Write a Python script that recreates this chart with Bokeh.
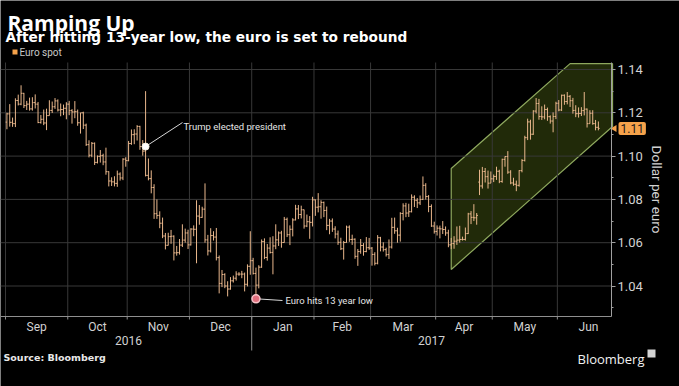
import numpy as np
import pandas as pd
from bokeh.plotting import figure
from bokeh.models import (FixedTicker, LinearAxis, Label, Range1d, ColumnDataSource,
                          NumeralTickFormatter)
from bokeh.transform import dodge
from bokeh.embed import file_html
from bokeh.resources import INLINE

# ---------------- data (EUR/USD daily bars) ----------------
FIRST_DAY = "2016-09-01"
LAST_DAY = "2017-06-21"

OPEN = [
    # Sep 2016
    1.1157, 1.1195, 1.1156, 1.1150, 1.1257, 1.1240, 1.1290, 1.1233, 1.1240, 1.1218, 1.1247,
    1.1240, 1.1155, 1.1170, 1.1153, 1.1187, 1.1211, 1.1228, 1.1255, 1.1213, 1.1215, 1.1221,
    # Oct
    1.1240, 1.1210, 1.1204, 1.1205, 1.1154, 1.1200, 1.1143, 1.1053, 1.1004, 1.1059, 1.0971,
    1.0999, 1.1002, 1.0973, 1.0928, 1.0885, 1.0881, 1.0874, 1.0917, 1.0899, 1.0986,
    # Nov
    1.0979, 1.1058, 1.1099, 1.1102, 1.1137, 1.1044, 1.1023, 1.0911, 1.0896, 1.0855, 1.0734,
    1.0726, 1.0690, 1.0631, 1.0588, 1.0628, 1.0630, 1.0553, 1.0554, 1.0589, 1.0612, 1.0645,
    # Dec
    1.0590, 1.0663, 1.0662, 1.0723, 1.0717, 1.0755, 1.0613, 1.0562, 1.0633, 1.0626, 1.0531,
    1.0412, 1.0453, 1.0400, 1.0386, 1.0424, 1.0436, 1.0455, 1.0455, 1.0455, 1.0408, 1.0491,
    # Jan 2017
    1.0517, 1.0458, 1.0404, 1.0487, 1.0605, 1.0532, 1.0575, 1.0555, 1.0585, 1.0613, 1.0645,
    1.0601, 1.0708, 1.0637, 1.0662, 1.0705, 1.0756, 1.0730, 1.0752, 1.0677, 1.0697, 1.0694,
    # Feb
    1.0798, 1.0764, 1.0766, 1.0786, 1.0749, 1.0680, 1.0700, 1.0663, 1.0640, 1.0602,
    1.0572, 1.0601, 1.0672, 1.0615, 1.0616, 1.0537, 1.0559, 1.0587, 1.0559, 1.0577,
    # Mar
    1.0575, 1.0546, 1.0505, 1.0623, 1.0580, 1.0568, 1.0545, 1.0580, 1.0671, 1.0655, 1.0635,
    1.0735, 1.0770, 1.0737, 1.0743, 1.0810, 1.0796, 1.0784, 1.0800, 1.0865, 1.0813, 1.0767, 1.0677,
    # Apr
    1.0652, 1.0667, 1.0664, 1.0661, 1.0645, 1.0590, 1.0596, 1.0607, 1.0612, 1.0615,
    1.0615, 1.0642, 1.0733, 1.0717, 1.0715, 1.0880, 1.0862, 1.0929, 1.0905, 1.0875,
    # May
    1.0895, 1.0906, 1.0930, 1.0883, 1.0985, 1.0998, 1.0926, 1.0876, 1.0870, 1.0865, 1.0933,
    1.0980, 1.1085, 1.1158, 1.1101, 1.1208, 1.1243, 1.1183, 1.1181, 1.1215, 1.1182, 1.1162, 1.1183,
    # Jun
    1.1244, 1.1213, 1.1281, 1.1252, 1.1276, 1.1256, 1.1211, 1.1196, 1.1197, 1.1210,
    1.1217, 1.1150, 1.1198, 1.1150, 1.1133,
]
HIGH = [
    1.1200, 1.1240, 1.1178, 1.1267, 1.1284, 1.1327, 1.1292, 1.1255, 1.1270, 1.1272, 1.1285,
    1.1250, 1.1190, 1.1215, 1.1219, 1.1258, 1.1252, 1.1268, 1.1262, 1.1243, 1.1238, 1.1249,
    1.1255, 1.1217, 1.1254, 1.1215, 1.1200, 1.1205, 1.1150, 1.1073, 1.1065, 1.1063, 1.1003,
    1.1028, 1.1011, 1.1039, 1.0930, 1.0902, 1.0907, 1.0933, 1.0925, 1.0990, 1.0995,
    1.1070, 1.1123, 1.1124, 1.1143, 1.1140, 1.1074, 1.1300, 1.0989, 1.0934, 1.0870, 1.0800,
    1.0745, 1.0716, 1.0645, 1.0646, 1.0659, 1.0634, 1.0585, 1.0617, 1.0685, 1.0665, 1.0660,
    1.0667, 1.0680, 1.0796, 1.0774, 1.0766, 1.0874, 1.0636, 1.0667, 1.0653, 1.0668, 1.0541,
    1.0474, 1.0459, 1.0422, 1.0441, 1.0448, 1.0468, 1.0464, 1.0470, 1.0462, 1.0500, 1.0653,
    1.0530, 1.0485, 1.0496, 1.0615, 1.0620, 1.0594, 1.0625, 1.0630, 1.0685, 1.0652, 1.0655,
    1.0719, 1.0716, 1.0680, 1.0713, 1.0775, 1.0774, 1.0771, 1.0753, 1.0730, 1.0723, 1.0812,
    1.0800, 1.0829, 1.0796, 1.0790, 1.0767, 1.0710, 1.0712, 1.0676, 1.0656, 1.0623,
    1.0608, 1.0679, 1.0680, 1.0637, 1.0620, 1.0571, 1.0617, 1.0598, 1.0626, 1.0622,
    1.0580, 1.0556, 1.0635, 1.0627, 1.0602, 1.0577, 1.0615, 1.0715, 1.0716, 1.0669, 1.0741,
    1.0782, 1.0784, 1.0780, 1.0823, 1.0819, 1.0806, 1.0818, 1.0906, 1.0875, 1.0820, 1.0777, 1.0697,
    1.0680, 1.0679, 1.0700, 1.0675, 1.0660, 1.0622, 1.0630, 1.0675, 1.0678, 1.0628,
    1.0670, 1.0738, 1.0746, 1.0778, 1.0737, 1.0937, 1.0950, 1.0945, 1.0933, 1.0929,
    1.0915, 1.0951, 1.0937, 1.0988, 1.0999, 1.1023, 1.0935, 1.0900, 1.0887, 1.0935, 1.0986,
    1.1094, 1.1173, 1.1168, 1.1212, 1.1268, 1.1264, 1.1230, 1.1238, 1.1224, 1.1188, 1.1202, 1.1251,
    1.1259, 1.1284, 1.1285, 1.1296, 1.1282, 1.1269, 1.1235, 1.1225, 1.1226, 1.1296,
    1.1220, 1.1212, 1.1212, 1.1167, 1.1160,
]
LOW = [
    1.1124, 1.1136, 1.1135, 1.1134, 1.1234, 1.1235, 1.1222, 1.1213, 1.1210, 1.1210, 1.1220,
    1.1152, 1.1150, 1.1143, 1.1120, 1.1187, 1.1199, 1.1218, 1.1206, 1.1184, 1.1189, 1.1170,
    1.1189, 1.1150, 1.1175, 1.1140, 1.1104, 1.1125, 1.1047, 1.0994, 1.0995, 1.0959, 1.0966,
    1.0970, 1.0958, 1.0914, 1.0860, 1.0862, 1.0860, 1.0858, 1.0887, 1.0889, 1.0951,
    1.0976, 1.1052, 1.1055, 1.1072, 1.1029, 1.1002, 1.0906, 1.0888, 1.0828, 1.0710, 1.0710,
    1.0667, 1.0621, 1.0569, 1.0587, 1.0595, 1.0518, 1.0540, 1.0545, 1.0580, 1.0600, 1.0571,
    1.0587, 1.0630, 1.0505, 1.0683, 1.0715, 1.0600, 1.0541, 1.0555, 1.0610, 1.0518, 1.0366,
    1.0395, 1.0390, 1.0352, 1.0383, 1.0416, 1.0425, 1.0447, 1.0436, 1.0375, 1.0398, 1.0452,
    1.0453, 1.0341, 1.0389, 1.0484, 1.0524, 1.0517, 1.0550, 1.0454, 1.0570, 1.0585, 1.0577,
    1.0600, 1.0626, 1.0589, 1.0629, 1.0703, 1.0709, 1.0712, 1.0665, 1.0672, 1.0618, 1.0675,
    1.0724, 1.0740, 1.0711, 1.0718, 1.0658, 1.0639, 1.0650, 1.0620, 1.0590, 1.0566,
    1.0522, 1.0600, 1.0604, 1.0590, 1.0526, 1.0493, 1.0549, 1.0540, 1.0556, 1.0567,
    1.0494, 1.0495, 1.0500, 1.0560, 1.0559, 1.0536, 1.0525, 1.0573, 1.0641, 1.0600, 1.0605,
    1.0703, 1.0718, 1.0719, 1.0740, 1.0765, 1.0760, 1.0774, 1.0797, 1.0799, 1.0741, 1.0673, 1.0642,
    1.0633, 1.0620, 1.0640, 1.0632, 1.0579, 1.0570, 1.0572, 1.0590, 1.0600, 1.0610,
    1.0610, 1.0640, 1.0686, 1.0700, 1.0683, 1.0820, 1.0850, 1.0878, 1.0850, 1.0875,
    1.0880, 1.0890, 1.0875, 1.0877, 1.0951, 1.0918, 1.0870, 1.0863, 1.0838, 1.0859, 1.0925,
    1.0975, 1.1074, 1.1076, 1.1098, 1.1197, 1.1168, 1.1167, 1.1170, 1.1163, 1.1150, 1.1110, 1.1171,
    1.1207, 1.1208, 1.1237, 1.1239, 1.1227, 1.1196, 1.1180, 1.1178, 1.1185, 1.1188,
    1.1132, 1.1150, 1.1145, 1.1119, 1.1119,
]
CLOSE = [
    1.1195, 1.1156, 1.1150, 1.1257, 1.1240, 1.1290, 1.1233, 1.1240, 1.1218, 1.1247, 1.1240,
    1.1155, 1.1170, 1.1153, 1.1187, 1.1211, 1.1228, 1.1255, 1.1213, 1.1215, 1.1221, 1.1240,
    1.1210, 1.1204, 1.1205, 1.1154, 1.1200, 1.1143, 1.1053, 1.1004, 1.1059, 1.0971, 1.0999,
    1.1002, 1.0973, 1.0928, 1.0885, 1.0881, 1.0874, 1.0917, 1.0899, 1.0986, 1.0979,
    1.1058, 1.1099, 1.1102, 1.1137, 1.1044, 1.1023, 1.0911, 1.0896, 1.0855, 1.0734, 1.0726,
    1.0690, 1.0631, 1.0588, 1.0628, 1.0630, 1.0553, 1.0554, 1.0589, 1.0612, 1.0645, 1.0590,
    1.0663, 1.0662, 1.0723, 1.0717, 1.0755, 1.0613, 1.0562, 1.0633, 1.0626, 1.0531, 1.0412,
    1.0453, 1.0400, 1.0386, 1.0424, 1.0436, 1.0455, 1.0455, 1.0455, 1.0408, 1.0491, 1.0517,
    1.0458, 1.0404, 1.0487, 1.0605, 1.0532, 1.0575, 1.0555, 1.0585, 1.0613, 1.0645, 1.0601,
    1.0708, 1.0637, 1.0662, 1.0705, 1.0756, 1.0730, 1.0752, 1.0677, 1.0697, 1.0694, 1.0798,
    1.0764, 1.0766, 1.0786, 1.0749, 1.0680, 1.0700, 1.0663, 1.0640, 1.0602, 1.0572,
    1.0601, 1.0672, 1.0615, 1.0616, 1.0537, 1.0559, 1.0587, 1.0559, 1.0577, 1.0575,
    1.0546, 1.0505, 1.0623, 1.0580, 1.0568, 1.0545, 1.0580, 1.0671, 1.0655, 1.0635, 1.0735,
    1.0770, 1.0737, 1.0743, 1.0810, 1.0796, 1.0784, 1.0800, 1.0865, 1.0813, 1.0767, 1.0677, 1.0652,
    1.0667, 1.0664, 1.0661, 1.0645, 1.0590, 1.0596, 1.0607, 1.0612, 1.0615, 1.0615,
    1.0642, 1.0733, 1.0717, 1.0715, 1.0726, 1.0862, 1.0929, 1.0905, 1.0875, 1.0895,
    1.0906, 1.0930, 1.0883, 1.0985, 1.0998, 1.0926, 1.0876, 1.0870, 1.0865, 1.0933, 1.0980,
    1.1085, 1.1158, 1.1101, 1.1208, 1.1243, 1.1183, 1.1181, 1.1215, 1.1182, 1.1162, 1.1183, 1.1244,
    1.1213, 1.1281, 1.1252, 1.1276, 1.1256, 1.1211, 1.1196, 1.1197, 1.1210, 1.1217,
    1.1150, 1.1198, 1.1150, 1.1133, 1.1128,
]

# trend channel (upper/lower parallel lines, clipped at the top of the chart)
CHANNEL_DATES = ["2017-04-10", "2017-06-07", "2017-06-28", "2017-06-28", "2017-04-10"]
CHANNEL_VALUES = [1.0943, 1.1427, 1.1427, 1.1137, 1.0476]

EVENT_DATES = ["2016-11-09", "2017-01-03"]
EVENT_VALUES = [1.1044, 1.0341]
EVENT_TEXTS = ["Trump elected president", "Euro hits 13 year low"]

LAST_VALUE = 1.1128
LAST_LABEL = "1.11"
Y_TICKS = [1.04, 1.06, 1.08, 1.10, 1.12, 1.14]
Y_MINOR = [1.03, 1.05, 1.07, 1.09, 1.11, 1.13]
MONTH_RANGE = ("2016-09-01", "2017-07-01")
YEAR_NAMES = ["2016", "2017"]

TITLE = "Ramping Up"
SUBTITLE = "After hitting 13-year low, the euro is set to rebound"
LEGEND = "Euro spot"
SOURCE = "Source: Bloomberg"
BRAND = "Bloomberg"
Y_LABEL = "Dollar per euro"

# ---------------- styling / layout ----------------
BG = "#000000"
BAR = "#e9b78c"
GRID = "#383838"
AXIS = "#8f8f8f"
TXT = "#d2d2d2"
ORANGE = "#f5a24b"
SANS = "Roboto"

W, H = 679, 386
# pixel geometry of the chart: bar i (weekday index) sits at x = X0 + PXD*(i+0.5)
X0, PXD = 5.0, 2.83
Y_REF, Y_REF_PX, PXV = 1.14, 69.0, 2165.0
CH_L, CH_T, CH_R, CH_B = 0, 62, 611, 316   # chart box (pixels)
MONTH_TICK_END = 319
YEAR_TICK_END = 350


def fx(px):
    return (px - X0) / PXD - 0.5


def fy(py):
    return Y_REF - (py - Y_REF_PX) / PXV


days = pd.bdate_range(FIRST_DAY, LAST_DAY)
assert len(days) == len(CLOSE) == len(OPEN) == len(HIGH) == len(LOW)
xs = np.busday_count(FIRST_DAY, days.strftime("%Y-%m-%d").tolist()).astype(float)

month_starts = pd.date_range(MONTH_RANGE[0], MONTH_RANGE[1], freq="MS")
bounds = [float(np.busday_count(FIRST_DAY, d.strftime("%Y-%m-%d"))) - 0.5 for d in month_starts]
month_names = [d.strftime("%b") for d in month_starts[:-1]]
month_mids = [(bounds[i] + bounds[i + 1]) / 2 for i in range(len(month_names))]
year_bound = float(np.busday_count(FIRST_DAY, "2017-01-01")) - 0.5
year_mids = [(bounds[0] + year_bound) / 2, (year_bound + fx(CH_R)) / 2]

XL, XR = fx(CH_L), fx(CH_R)
YB, YT = fy(CH_B), fy(CH_T)
gb = [b for b in bounds if XL <= b <= XR]

p = figure(width=W, height=H, output_backend="svg", toolbar_location=None,
           x_range=Range1d(fx(0), fx(W)), y_range=Range1d(fy(H), fy(0)),
           y_axis_location="right", title=None,
           min_border_left=0, min_border_right=0, min_border_top=0, min_border_bottom=0,
           background_fill_color=BG, border_fill_color=BG, outline_line_color=None)
p.grid.visible = False

# channel
chx = np.busday_count(FIRST_DAY, CHANNEL_DATES).astype(float)
p.patch(x=chx, y=CHANNEL_VALUES, fill_color="#212a09", fill_alpha=1.0,
        line_color="#8ea85e", line_width=1.2)

# grid lines limited to the chart box
p.segment(x0=gb, y0=[YB] * len(gb), x1=gb, y1=[YT] * len(gb), line_color=GRID, line_width=1)
p.segment(x0=[XL] * len(Y_TICKS), y0=Y_TICKS, x1=[XR] * len(Y_TICKS), y1=Y_TICKS,
          line_color=GRID, line_width=1)
# month boundary ticks and year divider below the axis
p.segment(x0=gb, y0=[YB] * len(gb), x1=gb, y1=[fy(MONTH_TICK_END)] * len(gb),
          line_color=AXIS, line_width=1)
p.segment(x0=[year_bound], y0=[YB], x1=[year_bound], y1=[fy(YEAR_TICK_END)],
          line_color=AXIS, line_width=1)

# OHLC bars
src = ColumnDataSource(dict(x=xs, o=OPEN, h=HIGH, l=LOW, c=CLOSE))
p.segment(x0="x", y0="l", x1="x", y1="h", source=src, line_color=BAR, line_width=1)
p.segment(x0=dodge("x", -0.45), y0="o", x1="x", y1="o", source=src, line_color=BAR, line_width=1)
p.segment(x0="x", y0="c", x1=dodge("x", 0.45), y1="c", source=src, line_color=BAR, line_width=1)

# bottom month axis (fixed at the chart bottom)
xa = p.xaxis[0]
xa.fixed_location = YB
xa.bounds = (XL, XR)
xa.ticker = FixedTicker(ticks=month_mids, minor_ticks=[])
xa.major_label_overrides = {m: n for m, n in zip(month_mids, month_names)}
xa.major_tick_line_color = None
xa.minor_tick_line_color = None
xa.major_tick_out = 0
xa.major_tick_in = 0
xa.minor_tick_out = 0
xa.minor_tick_in = 0
xa.axis_line_color = AXIS
xa.major_label_text_color = TXT
xa.major_label_text_font = SANS
xa.major_label_text_font_size = "12px"
xa.major_label_standoff = 3

# year axis
ya = LinearAxis(fixed_location=YB, bounds=(XL, XR),
                ticker=FixedTicker(ticks=year_mids, minor_ticks=[]),
                major_label_overrides={m: n for m, n in zip(year_mids, YEAR_NAMES)},
                axis_line_color=None, major_tick_line_color=None, minor_tick_line_color=None,
                major_tick_out=0, major_tick_in=0, minor_tick_in=0, minor_tick_out=0,
                major_label_text_color=TXT, major_label_text_font=SANS,
                major_label_text_font_size="12px", major_label_standoff=19)
p.add_layout(ya, "below")

# right value axis (fixed at the chart's right edge)
yax = p.yaxis[0]
yax.fixed_location = XR
yax.bounds = (YB, YT)
yax.ticker = FixedTicker(ticks=Y_TICKS, minor_ticks=Y_MINOR)
yax.formatter = NumeralTickFormatter(format="0.00")
yax.axis_line_color = "#a0a0a0"
yax.major_tick_line_color = "#a0a0a0"
yax.minor_tick_line_color = "#a0a0a0"
yax.major_tick_out = 4
yax.major_tick_in = 0
yax.minor_tick_out = 2
yax.minor_tick_in = 0
yax.major_label_standoff = 2
yax.major_label_text_color = TXT
yax.major_label_text_font = SANS
yax.major_label_text_font_size = "13px"
yax.axis_label = Y_LABEL
yax.axis_label_text_color = TXT
yax.axis_label_text_font = SANS
yax.axis_label_text_font_size = "13.5px"
yax.axis_label_text_font_style = "normal"
yax.axis_label_standoff = 3

# events
ev_x = np.busday_count(FIRST_DAY, EVENT_DATES).astype(float)
text_pos = [(183, 126), (285, 300)]
line_end = [(182, 122), (282, 300)]
for i in range(len(EVENT_DATES)):
    p.segment(x0=[ev_x[i]], y0=[EVENT_VALUES[i]], x1=[fx(line_end[i][0])], y1=[fy(line_end[i][1])],
              line_color="#d8d8d8", line_width=1)
p.scatter(x=ev_x[:1], y=EVENT_VALUES[:1], size=7, fill_color="#ffffff", line_color="#f4f0e0",
          line_width=1)
p.scatter(x=ev_x[1:], y=EVENT_VALUES[1:], size=8, fill_color="#e2707f", line_color="#f6c4ca",
          line_width=1.5)


def lab(px, py, text, size, color=TXT, font=SANS, style="normal", align="left",
        baseline="middle", **kw):
    l = Label(x=fx(px), y=fy(py), text=text, text_font_size=f"{size}px", text_color=color,
              text_font=font, text_font_style=style, text_align=align,
              text_baseline=baseline, **kw)
    p.add_layout(l)
    return l


for i, t in enumerate(EVENT_TEXTS):
    lab(text_pos[i][0], text_pos[i][1], t, 9.5, color="#e6e6e6")

# titles / legend / footer
lab(7, 22, TITLE, 21, color="#ffffff", font="Open Sans", style="bold", baseline="alphabetic")
lab(5, 36, SUBTITLE, 13.7, color="#ffffff", font="DejaVu Sans", style="bold", baseline="alphabetic")
p.scatter(x=[fx(14.5)], y=[fy(51.5)], marker="square", size=5, fill_color=ORANGE, line_color=None)
lab(19, 52, LEGEND, 10, color="#c8c8c8")
lab(3, 357, SOURCE, 9.5, color="#e8e8e8", font="DejaVu Sans", style="bold", baseline="alphabetic")
lab(577, 358, BRAND, 13, color="#f2f2f2", font="Open Sans", baseline="alphabetic")
p.scatter(x=[fx(651)], y=[fy(353)], marker="square", size=8, fill_color="#d4d4d4", line_color=None)

# last price tag on the axis
p.scatter(x=[fx(614)], y=[LAST_VALUE], marker="triangle", angle=np.pi / 2, size=7,
          fill_color=ORANGE, line_color=None)
lab(618, 128, LAST_LABEL, 12, color="#1a1a1a", background_fill_color=ORANGE,
    padding=2, border_radius=2)

open("out.html", "w").write(file_html(p, INLINE))
